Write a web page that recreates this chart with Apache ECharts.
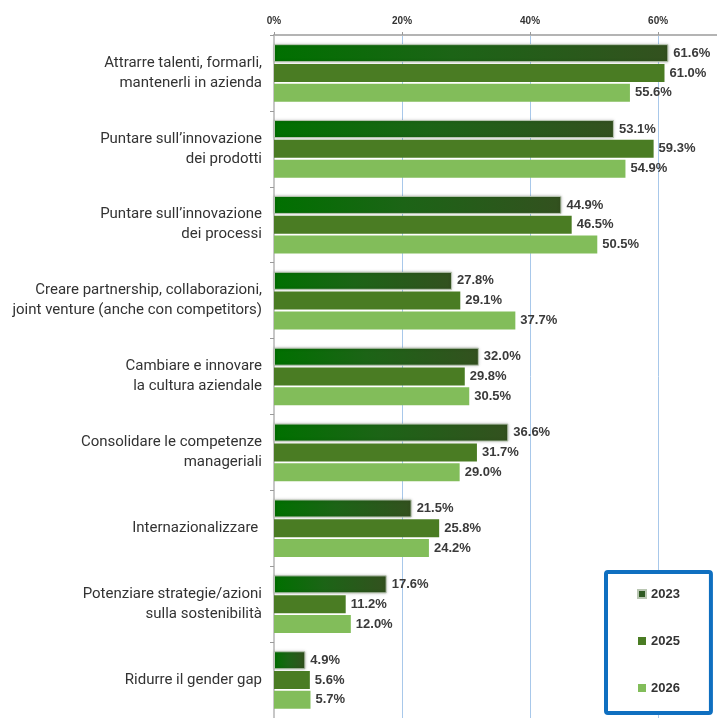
<!DOCTYPE html>
<html>
<head>
<meta charset="utf-8">
<script src="https://cdn.jsdelivr.net/npm/echarts@6/dist/echarts.min.js"></script>
<style>
  html, body { margin: 0; padding: 0; background: #fff; }
  #chart { width: 717px; height: 718px; }
</style>
</head>
<body>
<div id="chart"></div>
<script>
// Priorità strategiche: quota di aziende per anno
const categories = [
  'Attrarre talenti, formarli,\nmantenerli in azienda',
  'Puntare sull\u2019innovazione\ndei prodotti',
  'Puntare sull\u2019innovazione\ndei processi',
  'Creare partnership, collaborazioni,\njoint venture (anche con competitors)',
  'Cambiare e innovare\nla cultura aziendale',
  'Consolidare le competenze\nmanageriali',
  'Internazionalizzare ',
  'Potenziare strategie/azioni\nsulla sostenibilit\u00e0',
  'Ridurre il gender gap'
];
const seriesNames = ['2023', '2025', '2026'];
const values2023 = [61.6, 53.1, 44.9, 27.8, 32.0, 36.6, 21.5, 17.6, 4.9];
const values2025 = [61.0, 59.3, 46.5, 29.1, 29.8, 31.7, 25.8, 11.2, 5.6];
const values2026 = [55.6, 54.9, 50.5, 37.7, 30.5, 29.0, 24.2, 12.0, 5.7];
const xTicks = [0, 20, 40, 60];

const chart = echarts.init(document.getElementById('chart'), null, { renderer: 'canvas' });

const valueLabel = {
  show: true,
  position: 'right',
  distance: 5,
  color: '#3a3a3a',
  fontFamily: 'Liberation Sans, Arial, sans-serif',
  fontWeight: 'bold',
  fontSize: 13,
  formatter: p => p.value.toFixed(1) + '%'
};

const gradient2023 = new echarts.graphic.LinearGradient(0, 0, 1, 0, [
  { offset: 0, color: '#007000' },
  { offset: 0.45, color: '#1c6416' },
  { offset: 1, color: '#33511f' }
]);

chart.setOption({
  animation: false,
  backgroundColor: '#ffffff',
  grid: { left: 274, top: 35, right: 0, height: 684, containLabel: false },
  xAxis: {
    type: 'value',
    position: 'top',
    min: 0,
    max: 69.2,
    interval: 20,
    axisLine: { show: true, lineStyle: { color: '#b4b4b4', width: 2 } },
    axisTick: { show: true, length: 3, lineStyle: { color: '#9a9a9a' } },
    axisLabel: {
      margin: 9,
      color: '#333',
      fontFamily: 'Liberation Sans, Arial, sans-serif',
      fontWeight: 'bold',
      fontSize: 10,
      showMaxLabel: false,
      formatter: v => (xTicks.indexOf(v) >= 0 ? v + '%' : '')
    },
    splitLine: {
      show: true,
      showMinLine: false,
      showMaxLine: false,
      lineStyle: { color: '#a8c8ea', width: 1 }
    }
  },
  yAxis: {
    type: 'category',
    inverse: true,
    data: categories,
    axisLine: { show: true, lineStyle: { color: '#b4b4b4', width: 1.5 } },
    axisTick: { show: true, length: 4, lineStyle: { color: '#9a9a9a' } },
    axisLabel: {
      margin: 12,
      color: '#333',
      fontFamily: 'Roboto, sans-serif',
      fontSize: 15,
      lineHeight: 20,
      align: 'right'
    }
  },
  legend: {
    orient: 'vertical',
    left: 606,
    top: 572,
    padding: [15, 31, 18, 31],
    itemGap: 33,
    itemWidth: 8,
    itemHeight: 8,
    icon: 'rect',
    backgroundColor: '#ffffff',
    borderColor: '#0f6fc0',
    borderWidth: 4,
    borderRadius: 2,
    textStyle: {
      color: '#333',
      fontFamily: 'Liberation Sans, Arial, sans-serif',
      fontWeight: 'bold',
      fontSize: 13,
      lineHeight: 14
    },
    data: [
      { name: '2023', itemStyle: { color: '#2f5a22' } },
      { name: '2025' },
      { name: '2026' }
    ]
  },
  series: [
    {
      name: seriesNames[0],
      type: 'bar',
      data: values2023,
      barWidth: 18,
      barGap: '10%',
      itemStyle: {
        color: gradient2023,
        borderColor: '#b9c6b2',
        borderWidth: 1,
        shadowBlur: 3,
        shadowColor: 'rgba(0,0,0,0.25)'
      },
      label: valueLabel
    },
    {
      name: seriesNames[1],
      type: 'bar',
      data: values2025,
      barWidth: 18,
      barGap: '10%',
      itemStyle: { color: '#4a7c23' },
      label: valueLabel
    },
    {
      name: seriesNames[2],
      type: 'bar',
      data: values2026,
      barWidth: 18,
      barGap: '10%',
      itemStyle: { color: '#82bd5a' },
      label: valueLabel
    }
  ]
});
</script>
</body>
</html>
